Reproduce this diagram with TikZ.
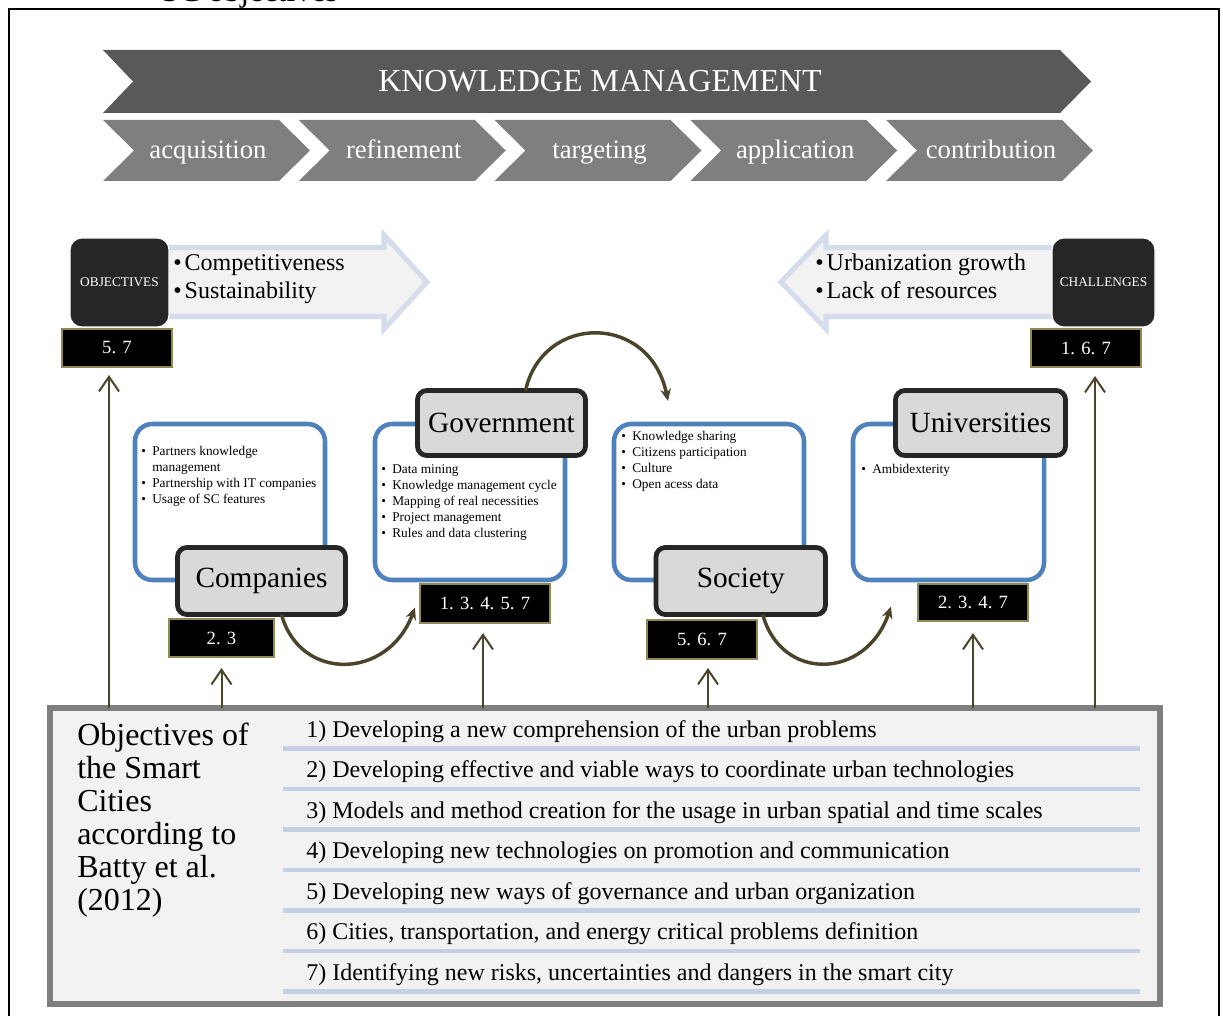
\documentclass[tikz,border=0pt]{standalone}
\usepackage{fontspec}
\setmainfont{Liberation Serif}
\usetikzlibrary{arrows.meta,fit,calc}
\definecolor{kmdark}{HTML}{595959}
\definecolor{kmstep}{HTML}{7F7F7F}
\definecolor{darkfill}{HTML}{262626}
\definecolor{numedge}{HTML}{938953}
\definecolor{arrowfill}{HTML}{F2F2F2}
\definecolor{arrowedge}{HTML}{D5DCEB}
\definecolor{bluebox}{HTML}{4F81BD}
\definecolor{labelfill}{HTML}{D9D9D9}
\definecolor{conn}{HTML}{4A452A}
\definecolor{panelfill}{HTML}{F2F2F2}
\definecolor{paneledge}{HTML}{7F7F7F}
\definecolor{listline}{HTML}{C6D0E4}
\newcommand{\bl}[1]{\makebox[8.3pt][l]{\textbullet}#1}
\newcommand{\bigbl}[1]{\makebox[8.6pt][l]{\textbullet}#1}
\tikzset{
  fitbox/.style={inner sep=0pt, outer sep=0pt},
  darkrect/.style={fitbox, fill=darkfill, draw=white, line width=0.8pt, rounded corners=9pt},
  darktext/.style={inner sep=0pt, text=white, font=\fontsize{10}{12}\selectfont},
  numbox/.style={fitbox, fill=black, draw=numedge, line width=1.1pt},
  numtext/.style={inner sep=0pt, text=white, font=\fontsize{14}{16}\selectfont},
  infobox/.style={fitbox, fill=white, draw=bluebox, line width=3.4pt, rounded corners=13pt},
  labelbox/.style={fitbox, fill=labelfill, draw=darkfill, line width=3.6pt, rounded corners=7pt},
  labeltext/.style={inner sep=0pt, font=\fontsize{22}{26}\selectfont},
  bigarrow/.style={fill=arrowfill, draw=arrowedge, line width=3.8pt},
  curvearrow/.style={draw=conn, line width=2.6pt, -{Stealth[length=9pt,width=8pt]}},
  uparrow/.style={draw=conn, line width=1.5pt, -{Straight Barb[length=11pt,width=15pt]}},
  panel/.style={fitbox, fill=panelfill, draw=paneledge, line width=4pt},
  bullettext/.style={anchor=base west, inner sep=0pt, font=\fontsize{10}{12}\selectfont},
  plaintext/.style={anchor=base west, inner sep=0pt},
}
\begin{document}
\begin{tikzpicture}[x=0.75pt,y=-0.75pt]
\useasboundingbox (0,0) rectangle (1223,1016);
% outer frame
\draw[line width=2.2pt] (9,1030) -- (9,9) -- (1219,9) -- (1219,1030);
\node[plaintext, font=\fontsize{24}{28}\selectfont] (sctitle) at (161,2) {SC objectives};
% knowledge management chevron
\fill[kmdark] (103,50) -- (1060,50) -- (1091,81.5) -- (1060,113) -- (103,113) -- (133,81.5) -- cycle;
\node[anchor=base, inner sep=0pt, text=white, font=\fontsize{24}{28}\selectfont] (km) at (600,92) {KNOWLEDGE MANAGEMENT};
\foreach \lbl [count=\i from 0] in {acquisition,refinement,targeting,application,contribution}{
  \pgfmathsetmacro{\xo}{103+195.75*\i}
  \fill[kmstep] (\xo,120) -- ++(176,0) -- ++(31,30.5) -- ++(-31,30.5) -- ++(-176,0) -- ++(31,-30.5) -- cycle;
  \node[anchor=base, inner sep=0pt, text=white, font=\fontsize{20}{24}\selectfont] (step\i) at (\xo+105,159) {\lbl};
}
% objectives
\path[bigarrow] (160,247.5) -- (384,247.5) -- (384,235) -- (427,282) -- (384,329) -- (384,316.5) -- (160,316.5) -- cycle;
\node[darkrect, fit={(70,238) (169,327)}] (obj) {};
\node[darktext] (objt) at (obj.center) {OBJECTIVES};
\node[numbox, fit={(62,329) (172,367)}] (objnum) {};
\node[numtext] (objnumt) at (objnum.center) {5. 7};
\node[plaintext, font=\fontsize{18}{21}\selectfont] (objtxt) at (173,270) {\begin{tabular}[t]{@{}l@{}}\bigbl{Competitiveness}\\\bigbl{Sustainability}\end{tabular}};
% challenges
\path[bigarrow] (1060,247.5) -- (826,247.5) -- (826,235) -- (781,282) -- (826,329) -- (826,316.5) -- (1060,316.5) -- cycle;
\node[darkrect, fit={(1052,238) (1155,327)}] (chal) {};
\node[darktext] (chalt) at (chal.center) {CHALLENGES};
\node[numbox, fit={(1031,329) (1141,367)}] (chalnum) {};
\node[numtext] (chalnumt) at (chalnum.center) {1. 6. 7};
\node[plaintext, font=\fontsize{18}{21}\selectfont] (chaltxt) at (815,270) {\begin{tabular}[t]{@{}l@{}}\bigbl{Urbanization growth}\\\bigbl{Lack of resources}\end{tabular}};
% actors
\node[infobox, fit={(135,424) (325,580)}] (compbox) {};
\node[labelbox, fit={(177.5,547.5) (345.5,614.5)}] (complabel) {};
\node[labeltext] (complabelt) at (complabel.center) {Companies};
\node[numbox, fit={(169,619) (274,657)}] (compnum) {};
\node[numtext] (compnumt) at (compnum.center) {2. 3};
\node[bullettext] (comptxt) at (141,455) {\begin{tabular}[t]{@{}l@{}}\bl{Partners knowledge}\\\hspace{8.3pt}management\\\bl{Partnership with IT companies}\\\bl{Usage of SC features}\end{tabular}};

\node[infobox, fit={(375,424) (565,580)}] (govbox) {};
\node[labelbox, fit={(417.5,390.5) (585.5,455.5)}] (govlabel) {};
\node[labeltext] (govlabelt) at (govlabel.center) {Government};
\node[numbox, fit={(420,584) (550,623)}] (govnum) {};
\node[numtext] (govnumt) at (govnum.center) {1. 3. 4. 5. 7};
\node[bullettext] (govtxt) at (381,473) {\begin{tabular}[t]{@{}l@{}}\bl{Data mining}\\\bl{Knowledge management cycle}\\\bl{Mapping of real necessities}\\\bl{Project management}\\\bl{Rules and data clustering}\end{tabular}};

\node[infobox, fit={(614,424) (804,580)}] (socbox) {};
\node[labelbox, fit={(656,547.5) (825.5,614.5)}] (soclabel) {};
\node[labeltext] (soclabelt) at (soclabel.center) {Society};
\node[numbox, fit={(647,620) (757,659)}] (socnum) {};
\node[numtext] (socnumt) at (socnum.center) {5. 6. 7};
\node[bullettext] (soctxt) at (621,440) {\begin{tabular}[t]{@{}l@{}}\bl{Knowledge sharing}\\\bl{Citizens participation}\\\bl{Culture}\\\bl{Open acess data}\end{tabular}};

\node[infobox, fit={(853,424) (1044,580)}] (unibox) {};
\node[labelbox, fit={(895.5,390.5) (1065.5,455.5)}] (unilabel) {};
\node[labeltext] (unilabelt) at (unilabel.center) {Universities};
\node[numbox, fit={(918,584) (1028,621)}] (uninum) {};
\node[numtext] (uninumt) at (uninum.center) {2. 3. 4. 7};
\node[bullettext] (unitxt) at (861,473) {\bl{Ambidexterity}};
% curved connectors
\coordinate (socin) at (668,401);
\draw[curvearrow] ($(complabel.south)+(20,0)$) .. controls (300,682) and (388,680) .. ($(govnum.west)+(-5,4)$);
\draw[curvearrow] ($(govlabel.north)+(24,0)$) .. controls (543,313) and (650,313) .. (socin);
\draw[curvearrow] ($(soclabel.south)+(22,0)$) .. controls (781,682) and (866,680) .. ($(uninum.west)+(-27,4)$);
% panel anchors for vertical arrows
\coordinate (ta) at ($(objnum.south)+(-8,8)$);
\coordinate (tb) at ($(compnum.south)+(0,11)$);
\coordinate (tc) at ($(govnum.south)+(-2,10)$);
\coordinate (td) at ($(socnum.south)+(6,9)$);
\coordinate (te) at ($(uninum.south)+(0,12)$);
\coordinate (tf) at ($(chalnum.south)+(9,9)$);
\node[panel, fit={(50,708) (1160,1004)}] (panel) {};
\foreach \t in {ta,tb,tc,td,te,tf}{
  \draw[uparrow] (panel.north -| \t) -- (\t);
}
\node[plaintext, font=\fontsize{24}{24.75}\selectfont] (paneltitle) at (77,745) {\begin{tabular}[t]{@{}l@{}}Objectives of\\the Smart\\Cities\\according to\\Batty et al.\\(2012)\end{tabular}};
\foreach \t [count=\k from 0] in {{1) Developing a new comprehension of the urban problems},{2) Developing effective and viable ways to coordinate urban technologies},{3) Models and method creation for the usage in urban spatial and time scales},{4) Developing new technologies on promotion and communication},{5) Developing new ways of governance and urban organization},{6) Cities, transportation, and energy critical problems definition},{7) Identifying new risks, uncertainties and dangers in the smart city}}{
  \node[plaintext, font=\fontsize{18}{21}\selectfont] (item\k) at (306,737+40.5*\k) {\t};
  \draw[listline, line width=3.5pt] (283,748.5+40.5*\k) -- (1140,748.5+40.5*\k);
}
\end{tikzpicture}
\end{document}
